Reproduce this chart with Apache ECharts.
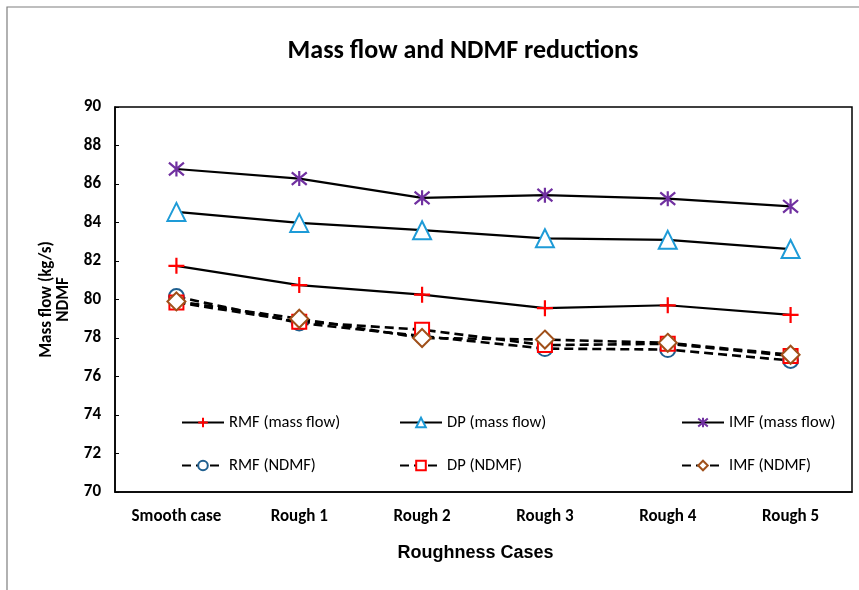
<!DOCTYPE html>
<html>
<head>
<meta charset="utf-8">
<script src="https://cdn.jsdelivr.net/npm/echarts@6/dist/echarts.min.js"></script>
<style>
html,body{margin:0;padding:0;background:#fff;}
#chart{width:859px;height:590px;}
</style>
</head>
<body>
<div id="chart"></div>
<script>
const categories = ['Smooth case', 'Rough 1', 'Rough 2', 'Rough 3', 'Rough 4', 'Rough 5'];
const rmfMass = [81.75, 80.75, 80.25, 79.55, 79.7, 79.2];
const dpMass = [84.55, 83.98, 83.6, 83.18, 83.1, 82.62];
const imfMass = [86.78, 86.28, 85.28, 85.42, 85.24, 84.84];
const rmfNdmf = [80.15, 78.78, 78.1, 77.45, 77.4, 76.83];
const dpNdmf = [79.85, 78.85, 78.43, 77.63, 77.7, 77.07];
const imfNdmf = [79.9, 79.0, 78.0, 77.92, 77.75, 77.13];
const yTicks = [70, 72, 74, 76, 78, 80, 82, 84, 86, 88, 90];

const FONT = 'Carlito, "Liberation Sans Narrow", "Open Sans", sans-serif';
const PLUS = 'path://M5,0 L5,10 M0,5 L10,5';
const STAR = 'path://M5,0 L5,10 M0.8,0.8 L9.2,9.2 M9.2,0.8 L0.8,9.2';

function mk(name, data, symbol, size, color, dashed, stroke) {
  return {
    name: name, type: 'line', data: data,
    symbol: symbol, symbolSize: size,
    showAllSymbol: true,
    lineStyle: {color: '#000', width: dashed ? 2.6 : 2.2, type: dashed ? [9, 5] : 'solid'},
    itemStyle: stroke ? {color: color, borderColor: color, borderWidth: 2.2}
                      : {color: color, borderColor: color, borderWidth: 2.4},
    emphasis: {disabled: true},
    z: dashed ? 3 : 2
  };
}

const chart = echarts.init(document.getElementById('chart'));
const legendText = {fontFamily: FONT, fontSize: 16.5, color: '#000'};
const lg = {orient: 'vertical', top: 409, itemGap: 26, itemWidth: 42, itemHeight: 12, textStyle: legendText};
chart.setOption({
  animation: false,
  backgroundColor: '#fff',
  title: {
    text: 'Mass flow and NDMF reductions',
    left: 458, top: 33, textAlign: 'center',
    textStyle: {fontFamily: FONT, fontWeight: 'bold', fontSize: 26, color: '#000'}
  },
  graphic: [{
    type: 'rect', shape: {x: 7, y: 7, width: 1000, height: 1000},
    style: {fill: 'none', stroke: '#7f7f7f', lineWidth: 1.2}, silent: true, z: -10
  }],
  grid: {left: 115, top: 107, width: 737, height: 385, show: true, borderColor: '#000', borderWidth: 1.5, backgroundColor: 'transparent'},
  legend: [
    Object.assign({data: ['RMF (mass flow)', 'RMF (NDMF)'], left: 176}, lg),
    Object.assign({data: ['DP (mass flow)', 'DP (NDMF)'], left: 394}, lg),
    Object.assign({data: ['IMF (mass flow)', 'IMF (NDMF)'], left: 676}, lg)
  ],
  xAxis: {
    type: 'category', data: categories, boundaryGap: true,
    name: 'Roughness Cases', nameLocation: 'middle', nameGap: 52,
    nameTextStyle: {fontFamily: 'Liberation Sans, Arial, sans-serif', fontWeight: 'bold', fontSize: 18, color: '#000', padding: [0, 16, 0, 0]},
    axisLine: {lineStyle: {color: '#000', width: 1.5}},
    axisTick: {inside: true, alignWithLabel: true, length: 4, lineStyle: {color: '#000'}},
    axisLabel: {fontFamily: FONT, fontWeight: 'bold', fontSize: 17, color: '#000', margin: 16}
  },
  yAxis: {
    type: 'value', min: yTicks[0], max: yTicks[yTicks.length - 1], interval: 2,
    name: 'Mass flow (kg/s)\nNDMF', nameLocation: 'middle', nameGap: 43, nameRotate: 90,
    nameTextStyle: {fontFamily: FONT, fontWeight: 'bold', fontSize: 17, color: '#000', lineHeight: 17},
    axisLine: {show: true, lineStyle: {color: '#000', width: 1.5}},
    axisTick: {show: true, inside: true, length: 4, lineStyle: {color: '#000'}},
    splitLine: {show: false},
    axisLabel: {fontFamily: FONT, fontWeight: 'bold', fontSize: 17, color: '#000', margin: 14}
  },
  series: [
    mk('RMF (mass flow)', rmfMass, PLUS, 16, '#ff0000', false, true),
    mk('DP (mass flow)', dpMass, 'emptyTriangle', 18, '#1e9bd7', false, false),
    mk('IMF (mass flow)', imfMass, STAR, 15, '#7030a0', false, true),
    mk('RMF (NDMF)', rmfNdmf, 'emptyCircle', 15, '#1f5f8f', true, false),
    mk('DP (NDMF)', dpNdmf, 'emptyRect', 14, '#ff0000', true, false),
    mk('IMF (NDMF)', imfNdmf, 'emptyDiamond', 18, '#a0501a', true, false)
  ]
});
</script>
</body>
</html>
